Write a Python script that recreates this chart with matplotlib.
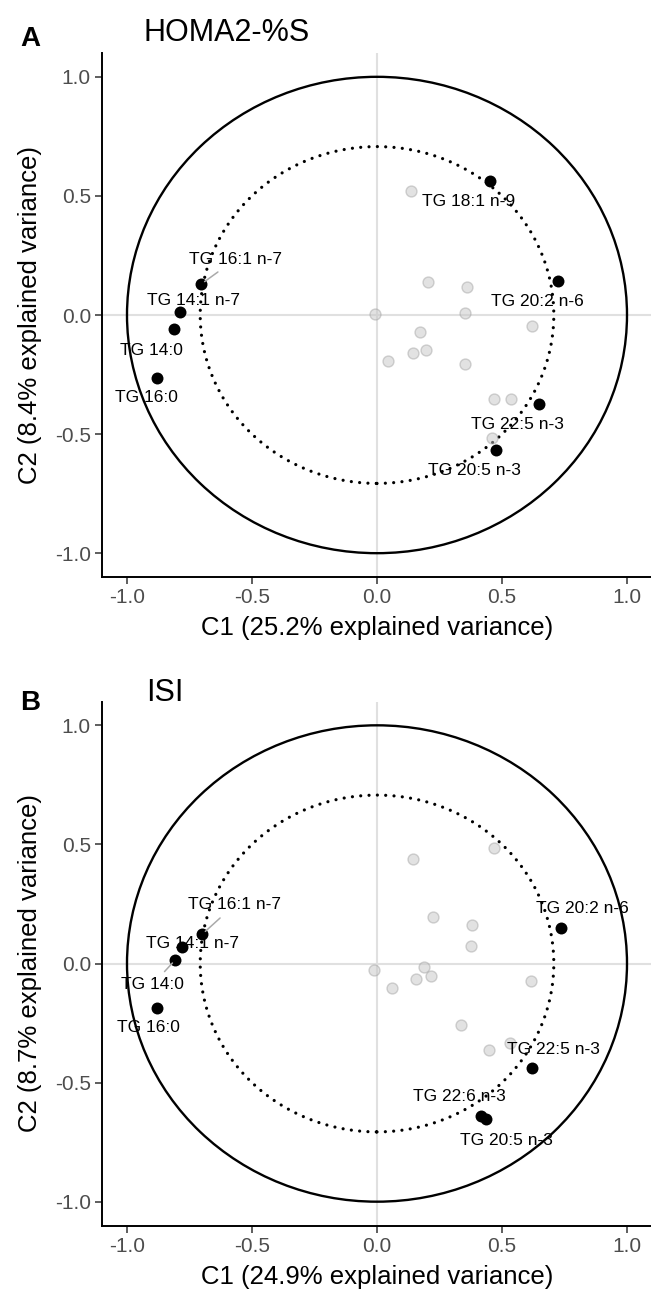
import matplotlib
matplotlib.use("Agg")
import matplotlib.pyplot as plt
from matplotlib.patches import Circle
import numpy as np

plt.rcParams['font.family'] = ['Liberation Sans', 'DejaVu Sans']
plt.rcParams['axes.unicode_minus'] = False

# ---------------- Panel A: HOMA2-%S ----------------
a_title = "HOMA2-%S"
a_xlabel = "C1 (25.2% explained variance)"
a_ylabel = "C2 (8.4% explained variance)"
a_names = ["TG 18:1 n-9", "TG 20:2 n-6", "TG 22:5 n-3", "TG 20:5 n-3",
           "TG 16:1 n-7", "TG 14:1 n-7", "TG 14:0", "TG 16:0"]
a_x = [0.450, 0.724, 0.646, 0.474, -0.703, -0.787, -0.811, -0.881]
a_y = [0.562, 0.144, -0.373, -0.566, 0.130, 0.011, -0.059, -0.263]
a_gray_x = [0.136, 0.205, 0.360, -0.009, 0.352, 0.621, 0.170, 0.144, 0.197,
            0.043, 0.352, 0.466, 0.537, 0.458]
a_gray_y = [0.521, 0.137, 0.117, 0.004, 0.010, -0.046, -0.071, -0.161, -0.148,
            -0.192, -0.206, -0.354, -0.354, -0.517]
a_lab_x = [0.365, 0.643, 0.563, 0.389, -0.566, -0.734, -0.901, -0.922]
a_lab_y = [0.475, 0.056, -0.461, -0.653, 0.234, 0.060, -0.147, -0.348]
a_segment = [False, False, False, False, True, False, False, False]

# ---------------- Panel B: ISI ----------------
b_title = "ISI"
b_xlabel = "C1 (24.9% explained variance)"
b_ylabel = "C2 (8.7% explained variance)"
b_names = ["TG 16:1 n-7", "TG 14:1 n-7", "TG 14:0", "TG 16:0",
           "TG 20:2 n-6", "TG 22:5 n-3", "TG 22:6 n-3", "TG 20:5 n-3"]
b_x = [-0.699, -0.782, -0.807, -0.879, 0.734, 0.621, 0.417, 0.437]
b_y = [0.123, 0.070, 0.015, -0.186, 0.150, -0.438, -0.639, -0.653]
b_gray_x = [0.469, 0.143, 0.223, 0.381, 0.374, -0.014, 0.186, 0.155, 0.214,
            0.058, 0.615, 0.337, 0.530, 0.449]
b_gray_y = [0.487, 0.439, 0.197, 0.163, 0.075, -0.027, -0.013, -0.065, -0.051,
            -0.102, -0.075, -0.260, -0.333, -0.365]
b_lab_x = [-0.570, -0.737, -0.899, -0.913, 0.821, 0.706, 0.330, 0.517]
b_lab_y = [0.246, 0.082, -0.090, -0.268, 0.229, -0.361, -0.560, -0.742]
b_segment = [True, False, True, False, False, False, False, False]

ticks = [-1.0, -0.5, 0.0, 0.5, 1.0]
tick_labels = ["-1.0", "-0.5", "0.0", "0.5", "1.0"]

W, H = 651, 1289
fig = plt.figure(figsize=(W / 100, H / 100), dpi=100)


def draw_panel(ax, gx, gy, bx, by, names, lx, ly, seg, xlabel, ylabel):
    ax.set_xlim(-1.1, 1.1)
    ax.set_ylim(-1.1, 1.1)
    ax.axhline(0, color="#e0e0e0", lw=1.5, zorder=1)
    ax.axvline(0, color="#e0e0e0", lw=1.5, zorder=1)
    ax.add_patch(Circle((0, 0), 1.0, fill=False, ec="black", lw=1.7, zorder=2))
    ax.add_patch(Circle((0, 0), np.sqrt(0.5), fill=False, ec="black", lw=2.3,
                        ls=(0, (0.01, 2.6)), capstyle="round", zorder=2))
    ax.scatter(gx, gy, s=62, facecolor=(0.78, 0.78, 0.78, 0.5),
               edgecolor=(0.62, 0.62, 0.62, 0.45), linewidth=1.0, zorder=3)
    ax.scatter(bx, by, s=74, color="black", linewidth=0, zorder=4)
    for name, px, py, tx, ty, s in zip(names, bx, by, lx, ly, seg):
        if s:
            ax.annotate(name, xy=(px, py), xytext=(tx, ty), ha="center", va="center",
                        fontsize=12.5, color="black", zorder=5,
                        arrowprops=dict(arrowstyle="-", color="#aaaaaa", lw=1.1,
                                        shrinkA=3, shrinkB=3))
        else:
            ax.text(tx, ty, name, ha="center", va="center", fontsize=12.5,
                    color="black", zorder=5)
    for side in ["top", "right"]:
        ax.spines[side].set_visible(False)
    for side in ["left", "bottom"]:
        ax.spines[side].set_linewidth(1.4)
    ax.set_xticks(ticks)
    ax.set_xticklabels(tick_labels)
    ax.set_yticks(ticks)
    ax.set_yticklabels(tick_labels)
    ax.tick_params(axis="both", length=5, width=1.1, color="#333333",
                   labelsize=15, labelcolor="#4d4d4d", pad=3)
    ax.set_xlabel(xlabel, fontsize=18.5, va="center", ha="center")
    ax.set_ylabel(ylabel, fontsize=18.5, va="center", ha="center")
    ax.xaxis.set_label_coords(0.5, -0.098)
    ax.yaxis.set_label_coords(-0.131, 0.5)


ax_a = fig.add_axes([102 / W, 1 - 577 / H, 550 / W, 524 / H])
draw_panel(ax_a, a_gray_x, a_gray_y, a_x, a_y, a_names, a_lab_x, a_lab_y,
           a_segment, a_xlabel, a_ylabel)
ax_b = fig.add_axes([102 / W, 1 - 1225.5 / H, 550 / W, 524 / H])
draw_panel(ax_b, b_gray_x, b_gray_y, b_x, b_y, b_names, b_lab_x, b_lab_y,
           b_segment, b_xlabel, b_ylabel)

fig.text(30 / W, 1 - 39 / H, "A", fontsize=20, fontweight="bold", ha="center", va="center")
fig.text(143 / W, 1 - 33 / H, a_title, fontsize=22, ha="left", va="center")
fig.text(30 / W, 1 - 703 / H, "B", fontsize=20, fontweight="bold", ha="center", va="center")
fig.text(146 / W, 1 - 693 / H, b_title, fontsize=22, ha="left", va="center")

fig.savefig("out.png", dpi=100, facecolor="white")
